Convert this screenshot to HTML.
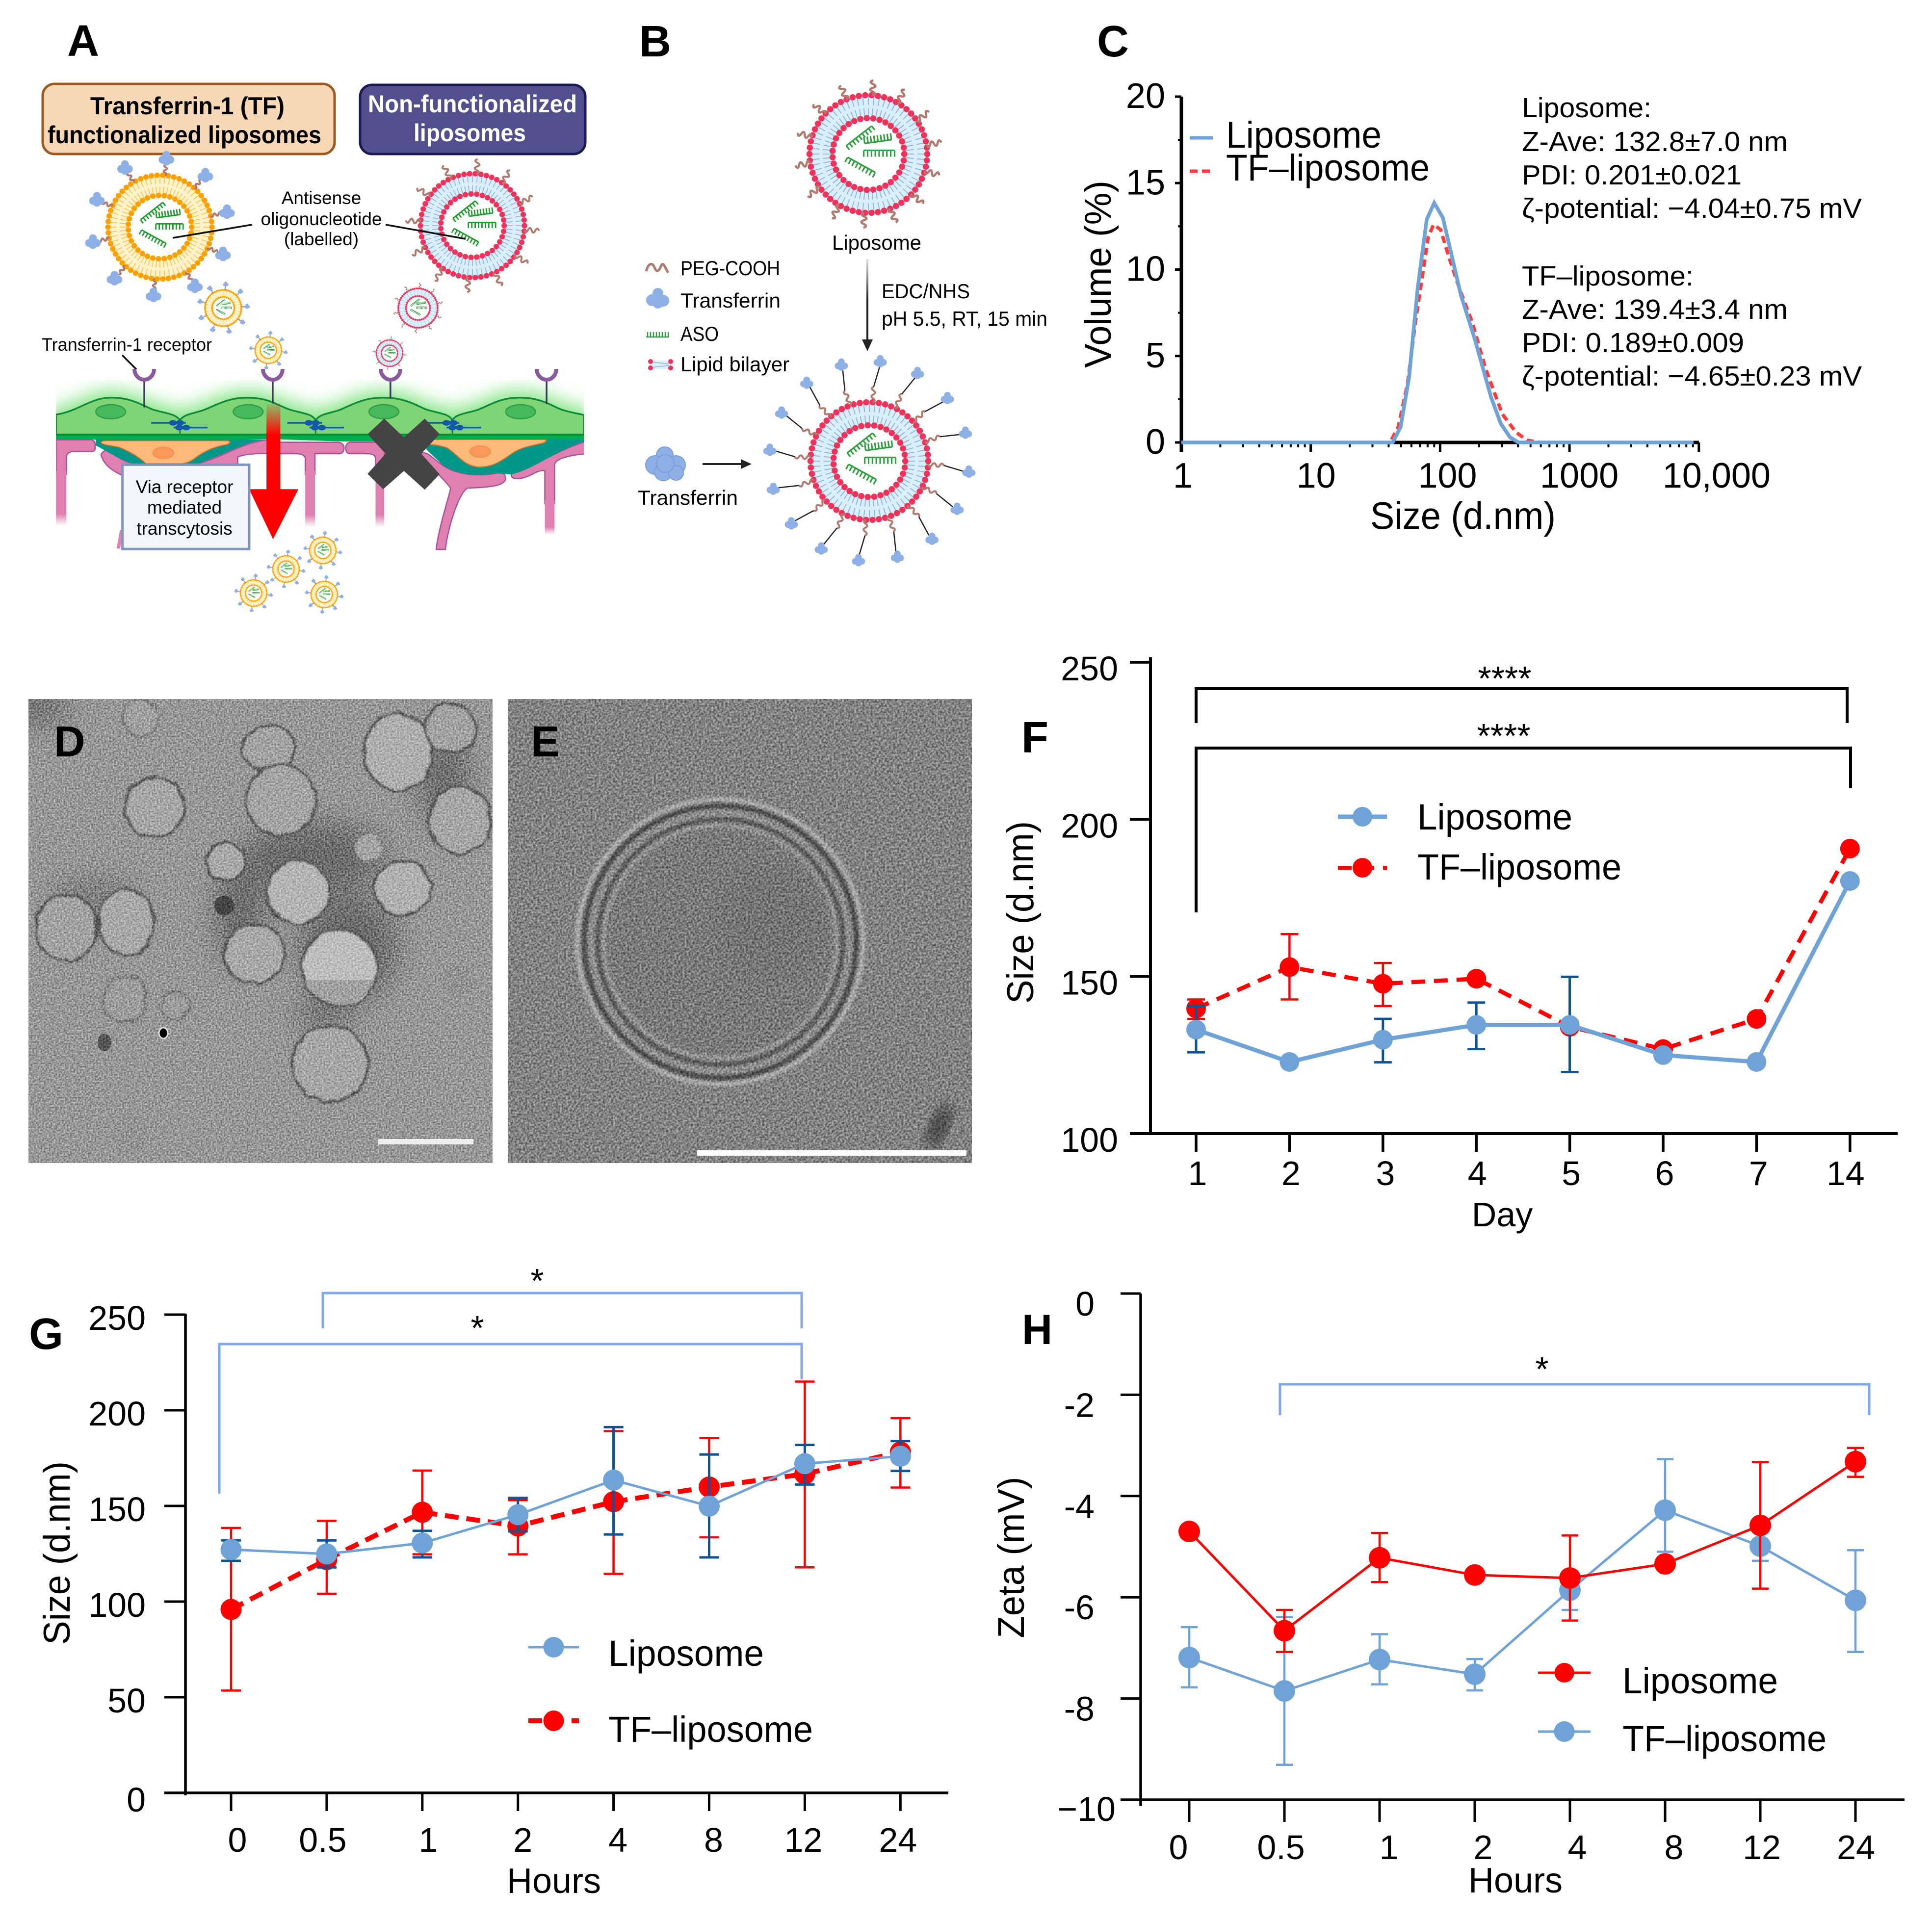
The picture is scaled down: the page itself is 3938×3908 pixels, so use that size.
<!DOCTYPE html>
<html lang="en">
<head>
<meta charset="utf-8">
<title>Liposome characterization figure</title>
<style>
html,body{margin:0;padding:0;background:#fff;}
svg{display:block;}
text{font-family:"Liberation Sans",sans-serif;fill:#000;}
.panel{font-size:90px;font-weight:700;}
.note{font-size:37px;}
.b{font-size:42px;}
.info{font-size:57px;}
.ax{font-size:72px;}
.hb{font-size:50px;font-weight:700;}
.ve *{vector-effect:non-scaling-stroke;}
</style>
</head>
<body>
<svg id="fig" xmlns="http://www.w3.org/2000/svg" width="3938" height="3908" viewBox="0 0 3938 3908">
<defs>
<filter id="noiseD" x="0" y="0" width="100%" height="100%" color-interpolation-filters="sRGB"><feTurbulence type="fractalNoise" baseFrequency="0.3" numOctaves="1" seed="4"/><feColorMatrix values="2 0 0 0 -0.5 2 0 0 0 -0.5 2 0 0 0 -0.5 0 0 0 0 1"/></filter>
<filter id="noiseE" x="0" y="0" width="100%" height="100%" color-interpolation-filters="sRGB"><feTurbulence type="fractalNoise" baseFrequency="0.24" numOctaves="2" seed="9"/><feColorMatrix values="1.8 0 0 0 -0.4 1.8 0 0 0 -0.4 1.8 0 0 0 -0.4 0 0 0 0 1"/></filter>
<filter id="rough" x="-5%" y="-5%" width="110%" height="110%" color-interpolation-filters="sRGB"><feTurbulence type="fractalNoise" baseFrequency="0.04" numOctaves="2" seed="3" result="n"/><feDisplacementMap in="SourceGraphic" in2="n" scale="14" xChannelSelector="R" yChannelSelector="G"/><feGaussianBlur stdDeviation="1.6"/></filter>
<filter id="blur30"><feGaussianBlur stdDeviation="30"/></filter>
<filter id="blur14"><feGaussianBlur stdDeviation="14"/></filter>
<filter id="blur3"><feGaussianBlur stdDeviation="3"/></filter>
<filter id="glow" x="-10%" y="-60%" width="120%" height="220%"><feGaussianBlur stdDeviation="26 62"/></filter>
<clipPath id="clipD"><rect x="58" y="1425" width="946" height="946"/></clipPath>
<clipPath id="clipE"><rect x="1035" y="1425" width="946" height="946"/></clipPath>
<clipPath id="clipCells"><rect x="20" y="-80" width="1525" height="1200"/></clipPath>
<linearGradient id="fadeRed" x1="0" y1="0" x2="0" y2="1"><stop offset="0" stop-color="#ff0000" stop-opacity="0.1"/><stop offset="0.36" stop-color="#ff0000"/><stop offset="1" stop-color="#ff0000"/></linearGradient>
<linearGradient id="fadeArrow" x1="0" y1="0" x2="0" y2="1"><stop offset="0" stop-color="#222" stop-opacity="0.15"/><stop offset="0.5" stop-color="#222"/></linearGradient>
<linearGradient id="fadePink" x1="0" y1="0" x2="0" y2="1"><stop offset="0.78" stop-color="#df80b0"/><stop offset="1" stop-color="#df80b0" stop-opacity="0"/></linearGradient>
<linearGradient id="fadePurple" x1="0" y1="0" x2="0" y2="1"><stop offset="0.78" stop-color="#a8509a"/><stop offset="1" stop-color="#a8509a" stop-opacity="0"/></linearGradient>
</defs>
<rect width="3938" height="3908" fill="#fff"/>

<!-- panel letters -->
<text class="panel" x="137" y="114">A</text>
<text class="panel" x="1303" y="115">B</text>
<text class="panel" x="2236" y="115">C</text>

<!-- PANEL A -->
<g>
  <rect x="87" y="171" width="595" height="143" rx="24" fill="#f6d7b6" stroke="#9b5a22" stroke-width="5"/>
  <text class="hb" x="184" y="233" textLength="396" lengthAdjust="spacingAndGlyphs">Transferrin-1 (TF)</text>
  <text class="hb" x="97" y="292" textLength="558" lengthAdjust="spacingAndGlyphs">functionalized liposomes</text>
  <rect x="734" y="173" width="459" height="141" rx="24" fill="#514f8e" stroke="#1c1a55" stroke-width="5"/>
  <text class="hb" style="fill:#fff" x="750" y="229" textLength="426" lengthAdjust="spacingAndGlyphs">Non-functionalized</text>
  <text class="hb" style="fill:#fff" x="843" y="288" textLength="229" lengthAdjust="spacingAndGlyphs">liposomes</text>

  <g id="aLipos"></g>

  <text class="note" x="655" y="416" text-anchor="middle">Antisense</text>
  <text class="note" x="655" y="459" text-anchor="middle" textLength="247" lengthAdjust="spacingAndGlyphs">oligonucleotide</text>
  <text class="note" x="655" y="500" text-anchor="middle">(labelled)</text>
  <path d="M514 458L352 485M786 458L949 487" stroke="#111" stroke-width="3.5" fill="none"/>
  <text class="note" x="85" y="715" textLength="347" lengthAdjust="spacingAndGlyphs">Transferrin-1 receptor</text>
  <path d="M249 724L278 753" stroke="#111" stroke-width="3.5" fill="none"/>

  <g class="ve" transform="translate(100,760) scale(0.7057,0.3333)" clip-path="url(#clipCells)">
    <path d="M20 255C80 240 120 152 178 152C240 152 270 200 300 225C340 250 365 250 378 290C390 250 420 250 450 225C490 190 520 152 573 152C635 152 660 200 695 225C735 250 760 250 770 290C782 250 810 250 842 225C880 190 910 152 965 152C1030 152 1060 200 1090 225C1130 250 1155 250 1165 290C1175 250 1205 250 1240 225C1280 190 1305 152 1360 152C1420 152 1450 200 1480 225C1510 245 1530 250 1545 258V330H20Z" fill="#7be07b" stroke="#6fe06f" stroke-width="22" filter="url(#glow)"/>
    <g fill="#df80b0" stroke="#a8509a" stroke-width="2.5">
      <path d="M20 410H120Q133 412 133 440V465Q133 482 118 482H65Q50 490 50 520V620H20Z"/>
      <rect x="20" y="600" width="30" height="335" fill="url(#fadePink)" stroke="none"/>
      <path d="M150 500Q160 465 175 475Q200 530 240 555L210 625Q160 580 150 500Z"/>
      <path d="M205 960L217 960L205 1075L195 1075Z" stroke="none"/>
      <path d="M430 555C500 520 560 420 640 408L640 425H835Q852 430 852 460Q852 495 835 495H768V620H740V520Q735 495 715 495H640C600 490 560 500 545 515V560H430Z"/>
      <rect x="740" y="600" width="28" height="345" fill="url(#fadePink)" stroke="none"/>
      <path d="M870 425H1000V495H968V620H943V520Q940 495 920 495H870Q857 495 857 460Q857 430 870 425Z"/>
      <rect x="943" y="600" width="25" height="345" fill="url(#fadePink)" stroke="none"/>
      <path d="M1075 490C1095 480 1110 530 1140 570C1170 610 1220 640 1290 615C1315 600 1320 630 1318 655C1310 690 1280 700 1210 705C1185 720 1150 960 1145 1080H1118C1125 950 1155 760 1160 705C1140 650 1100 570 1075 520Z"/>
      <path d="M1337 610C1400 580 1460 480 1550 420V495C1500 505 1465 525 1460 560V800H1432V600Q1425 590 1400 615C1370 650 1340 660 1335 630Z"/>
      <rect x="1432" y="780" width="28" height="210" fill="url(#fadePink)" stroke="none"/>
    </g>
    <path d="M135 408L625 408C560 425 510 500 430 555L240 555C200 530 170 480 135 445Z" fill="#009688"/>
    <path d="M1090 408L1545 408V420C1460 480 1400 590 1335 622L1290 615C1220 640 1170 610 1140 570C1120 530 1100 490 1090 470Z" fill="#009688"/>
    <path d="M20 378H1545V408H1100L1000 420H850L640 405L530 410H135L130 408H20Z" fill="#00ad4c"/>
    <path d="M160 415H515Q530 420 515 438C480 452 455 470 420 525Q405 550 385 556H280C262 520 240 490 205 458C185 445 155 445 150 428Q150 418 160 415Z" fill="#fdb97a" stroke="#c8702a" stroke-width="2"/>
    <ellipse cx="330" cy="490" rx="30" ry="35" fill="#f9985a" stroke="#f08a4a" stroke-width="1.5"/>
    <path d="M1100 408H1430Q1442 412 1430 428C1400 445 1370 450 1340 490C1310 535 1285 575 1245 577C1200 575 1185 510 1150 460C1130 445 1110 440 1095 438Z" fill="#fdb97a" stroke="#c8702a" stroke-width="2"/>
    <ellipse cx="1245" cy="482" rx="30" ry="35" fill="#f9985a" stroke="#f08a4a" stroke-width="1.5"/>
    <path d="M20 255C80 240 120 152 178 152C240 152 270 200 300 225C340 250 365 250 378 290C390 250 420 250 450 225C490 190 520 152 573 152C635 152 660 200 695 225C735 250 760 250 770 290C782 250 810 250 842 225C880 190 910 152 965 152C1030 152 1060 200 1090 225C1130 250 1155 250 1165 290C1175 250 1205 250 1240 225C1280 190 1305 152 1360 152C1420 152 1450 200 1480 225C1510 245 1530 250 1545 258V378H20Z" fill="#7fd576" stroke="#0d8a3a" stroke-width="3.5"/>
    <rect x="20" y="372" width="1525" height="11" fill="#0d8a3a"/>
    <path d="M378 290V378M770 290V378M1165 290V378" stroke="#0d8a3a" stroke-width="3" fill="none"/>
    <g fill="#46b95a" stroke="#2f9c4a" stroke-width="2.5">
      <ellipse cx="178" cy="238" rx="43" ry="43"/>
      <ellipse cx="575" cy="238" rx="43" ry="43"/>
      <ellipse cx="967" cy="238" rx="43" ry="43"/>
      <ellipse cx="1362" cy="238" rx="43" ry="43"/>
    </g>
    <g stroke="#1259a8" stroke-width="3.5" fill="#1259a8">
      <path d="M295 306H395M360 335H458"/><ellipse cx="358" cy="306" rx="9" ry="12"/><ellipse cx="378" cy="306" rx="9" ry="12"/><ellipse cx="376" cy="335" rx="9" ry="12"/><ellipse cx="396" cy="335" rx="9" ry="12"/>
      <path d="M688 306H788M752 335H852"/><ellipse cx="750" cy="306" rx="9" ry="12"/><ellipse cx="770" cy="306" rx="9" ry="12"/><ellipse cx="768" cy="335" rx="9" ry="12"/><ellipse cx="788" cy="335" rx="9" ry="12"/>
      <path d="M1085 306H1185M1148 335H1248"/><ellipse cx="1148" cy="306" rx="9" ry="12"/><ellipse cx="1168" cy="306" rx="9" ry="12"/><ellipse cx="1165" cy="335" rx="9" ry="12"/><ellipse cx="1186" cy="335" rx="9" ry="12"/>
    </g>
    <path d="M275 50V212M646 50V187M986 50V154M1437 50V192" stroke="#3a3a55" stroke-width="3.5" fill="none"/>
    <rect x="628" y="190" width="40" height="525" fill="url(#fadeRed)"/>
    <path d="M578 712H720L647 1018Z" fill="#ff0000"/>
    <path d="M968 280L1025 395L1085 280L1128 375L1075 495L1128 620L1085 715L1025 600L965 712L920 618L972 495L920 375Z" fill="#444"/>
    <rect x="212" y="562" width="366" height="516" fill="#f2f5fa" stroke="#7f97bf" stroke-width="5"/>
  </g>
  <path d="M274 752A20 22 0 0 0 314 752M536 752A20 22 0 0 0 576 752M776 752A20 22 0 0 0 816 752M1094 752A20 22 0 0 0 1134 752" stroke="#8a5a9f" stroke-width="8" fill="none"/>
  <text class="note" x="376" y="1005" text-anchor="middle">Via receptor</text>
  <text class="note" x="376" y="1047" text-anchor="middle">mediated</text>
  <text class="note" x="376" y="1090" text-anchor="middle">transcytosis</text>
</g>

<!-- PANEL B -->
<g>
  <g id="bLipos"></g>
  <text class="b" x="1787" y="509" text-anchor="middle" textLength="182" lengthAdjust="spacingAndGlyphs">Liposome</text>
  <rect x="1766" y="528" width="4" height="168" fill="url(#fadeArrow)"/>
  <path d="M1757 692H1779L1768 716Z" fill="#222"/>
  <text class="b" x="1797" y="608" textLength="180" lengthAdjust="spacingAndGlyphs">EDC/NHS</text>
  <text class="b" x="1797" y="664" textLength="338" lengthAdjust="spacingAndGlyphs">pH 5.5, RT, 15 min</text>
  <path d="M1317 553C1322 535 1330 535 1334 545S1342 555 1347 543S1355 545 1362 556" fill="none" stroke="#b07a6e" stroke-width="5"/>
  <g fill="#8fb0e6"><circle cx="1341" cy="598" r="11"/><circle cx="1329" cy="612" r="12"/><circle cx="1352" cy="613" r="12"/><circle cx="1341" cy="618" r="11"/></g>
  <path d="M1317 687H1364M1320 687V677M1326 687V677M1332 687V677M1338 687V677M1344 687V677M1350 687V677M1356 687V677M1362 687V677" stroke="#2e9e3e" stroke-width="2.5" fill="none"/>
  <g><rect x="1324" y="735" width="44" height="17" fill="#d9f0fb"/><path d="M1328 738L1364 742M1328 749L1364 745" stroke="#8fb0e0" stroke-width="1.5"/><g fill="#f0325a"><circle cx="1326" cy="737" r="5"/><circle cx="1326" cy="750" r="5"/><circle cx="1367" cy="737" r="5"/><circle cx="1367" cy="750" r="5"/></g></g>
  <text class="b" x="1387" y="561" textLength="203" lengthAdjust="spacingAndGlyphs">PEG-COOH</text>
  <text class="b" x="1387" y="627" textLength="204" lengthAdjust="spacingAndGlyphs">Transferrin</text>
  <text class="b" x="1387" y="695" textLength="78" lengthAdjust="spacingAndGlyphs">ASO</text>
  <text class="b" x="1387" y="757" textLength="222" lengthAdjust="spacingAndGlyphs">Lipid bilayer</text>
  <g fill="#8fb0e6" stroke="#7a9cdc" stroke-width="2">
    <circle cx="1355" cy="928" r="17"/><circle cx="1335" cy="948" r="19"/><circle cx="1378" cy="948" r="19"/><circle cx="1352" cy="962" r="18"/><circle cx="1378" cy="964" r="15"/><circle cx="1356" cy="945" r="18"/>
  </g>
  <text class="b" x="1300" y="1029" textLength="204" lengthAdjust="spacingAndGlyphs">Transferrin</text>
  <path d="M1432 946H1516" stroke="#222" stroke-width="4" fill="none"/>
  <path d="M1510 936L1532 946L1510 956Z" fill="#222"/>
</g>

<!-- PANEL C static text -->
<g>
  <text class="ax" transform="translate(2264,559) rotate(-90)" text-anchor="middle" textLength="382" lengthAdjust="spacingAndGlyphs" style="font-size:76px">Volume (%)</text>
  <text class="ax" x="2982" y="1078" text-anchor="middle" textLength="378" lengthAdjust="spacingAndGlyphs" style="font-size:78px">Size (d.nm)</text>
  <text class="ax" x="2499" y="301" textLength="317" lengthAdjust="spacingAndGlyphs" style="font-size:76px">Liposome</text>
  <text class="ax" x="2499" y="368" textLength="415" lengthAdjust="spacingAndGlyphs" style="font-size:76px">TF–liposome</text>
  <path d="M2425 281H2472" stroke="#6fa3d8" stroke-width="7"/>
  <path d="M2425 349H2472" stroke="#ff3b3b" stroke-width="7" stroke-dasharray="16 9"/>
  <text class="info" x="3102" y="239" textLength="264" lengthAdjust="spacingAndGlyphs">Liposome:</text>
  <text class="info" x="3102" y="308" textLength="542" lengthAdjust="spacingAndGlyphs">Z-Ave: 132.8±7.0 nm</text>
  <text class="info" x="3102" y="376" textLength="448" lengthAdjust="spacingAndGlyphs">PDI: 0.201±0.021</text>
  <text class="info" x="3102" y="444" textLength="693" lengthAdjust="spacingAndGlyphs">ζ-potential: −4.04±0.75 mV</text>
  <text class="info" x="3102" y="582" textLength="350" lengthAdjust="spacingAndGlyphs">TF–liposome:</text>
  <text class="info" x="3102" y="650" textLength="542" lengthAdjust="spacingAndGlyphs">Z-Ave: 139.4±3.4 nm</text>
  <text class="info" x="3102" y="718" textLength="453" lengthAdjust="spacingAndGlyphs">PDI: 0.189±0.009</text>
  <text class="info" x="3102" y="786" textLength="693" lengthAdjust="spacingAndGlyphs">ζ-potential: −4.65±0.23 mV</text>
</g>
<g id="chartC"></g>

<!-- PANEL D -->
<g clip-path="url(#clipD)">
  <rect x="58" y="1425" width="946" height="946" fill="#979797"/>
  <g fill="#6a6a6a" filter="url(#blur30)">
    <ellipse cx="905" cy="1590" rx="50" ry="100"/>
    <ellipse cx="640" cy="1745" rx="150" ry="70"/>
    <ellipse cx="490" cy="1860" rx="50" ry="110"/>
    <ellipse cx="710" cy="1930" rx="100" ry="110"/>
    <ellipse cx="190" cy="1825" rx="90" ry="22"/>
    <ellipse cx="660" cy="2070" rx="60" ry="28"/>
    <ellipse cx="70" cy="1440" rx="70" ry="35"/>
  </g>
  <g fill="#aeaeae" stroke="#555" stroke-width="5" filter="url(#rough)">
    <ellipse cx="286" cy="1463" rx="36" ry="38" fill="#a0a0a0" stroke="#7d7d7d"/>
    <ellipse cx="548" cy="1527" rx="54" ry="47" fill="#a2a2a2"/>
    <ellipse cx="812" cy="1533" rx="71" ry="78"/>
    <ellipse cx="918" cy="1485" rx="52" ry="51" fill="#a2a2a2"/>
    <ellipse cx="316" cy="1646" rx="61" ry="61" fill="#a6a6a6"/>
    <ellipse cx="573" cy="1631" rx="71" ry="72" fill="#a4a4a4"/>
    <ellipse cx="937" cy="1673" rx="64" ry="68" fill="#a6a6a6"/>
    <ellipse cx="460" cy="1756" rx="39" ry="39" fill="#a8a8a8"/>
    <ellipse cx="750" cy="1729" rx="28" ry="27" fill="#a4a4a4" stroke="none"/>
    <ellipse cx="608" cy="1820" rx="64" ry="64" fill="#b4b4b4"/>
    <ellipse cx="821" cy="1810" rx="58" ry="55" fill="#b0b0b0"/>
    <ellipse cx="135" cy="1891" rx="62" ry="67" fill="#a2a2a2"/>
    <ellipse cx="258" cy="1881" rx="58" ry="67" fill="#a8a8a8"/>
    <ellipse cx="518" cy="1945" rx="62" ry="60" fill="#a8a8a8"/>
    <ellipse cx="692" cy="1973" rx="77" ry="78" fill="#bdbdbd"/>
    <ellipse cx="254" cy="2036" rx="45" ry="47" fill="#9c9c9c" stroke="#7a7a7a"/>
    <ellipse cx="357" cy="2051" rx="28" ry="29" fill="#9c9c9c" stroke="#7a7a7a"/>
    <ellipse cx="673" cy="2169" rx="77" ry="78" fill="#a6a6a6"/>
    <ellipse cx="934" cy="1999" rx="32" ry="32" fill="#929292" stroke="none"/>
    <ellipse cx="264" cy="2311" rx="36" ry="39" fill="#949494" stroke="none"/>
  </g>
  <path d="M620 1998A77 78 0 0 0 764 1998Z" fill="#8d8d8d" opacity="0.6"/>
  <ellipse cx="457" cy="1846" rx="20" ry="20" fill="#444"/>
  <ellipse cx="213" cy="2125" rx="14" ry="18" fill="#555"/>
  <ellipse cx="333" cy="2106" rx="9" ry="11" fill="#000" stroke="#ddd" stroke-width="3"/>
  <rect x="58" y="1425" width="946" height="946" filter="url(#noiseD)" opacity="0.45" style="mix-blend-mode:overlay"/>
  <rect x="771" y="2322" width="194" height="11" fill="#eee"/>
  <text class="panel" x="110" y="1542" style="font-size:88px">D</text>
</g>

<!-- PANEL E -->
<g clip-path="url(#clipE)">
  <rect x="1035" y="1425" width="946" height="946" fill="#828282"/>
  <ellipse cx="1468" cy="1920" rx="291" ry="290" fill="none" stroke="#adadad" stroke-width="9" filter="url(#blur3)"/>
  <ellipse cx="1468" cy="1920" rx="240" ry="240" fill="#7a7a7a"/>
  <ellipse cx="1468" cy="1920" rx="238" ry="238" fill="none" stroke="#969696" stroke-width="9" filter="url(#blur3)"/>
  <ellipse cx="1468" cy="1920" rx="264" ry="264" fill="none" stroke="#8e8e8e" stroke-width="20"/>
  <ellipse cx="1468" cy="1920" rx="277" ry="277" fill="none" stroke="#4a4a4a" stroke-width="10" filter="url(#blur3)"/>
  <ellipse cx="1468" cy="1920" rx="250" ry="250" fill="none" stroke="#555" stroke-width="9" filter="url(#blur3)"/>
  <ellipse cx="1570" cy="1880" rx="100" ry="110" fill="#737373" filter="url(#blur30)"/>
  <ellipse cx="1914" cy="2296" rx="20" ry="48" fill="#454545" filter="url(#blur14)" transform="rotate(25 1914 2296)"/>
  <rect x="1035" y="1425" width="946" height="946" filter="url(#noiseE)" opacity="0.42" style="mix-blend-mode:overlay"/>
  <rect x="1421" y="2345" width="549" height="11" fill="#fff"/>
  <text class="panel" x="1082" y="1542" style="font-size:88px">E</text>
</g>

<!-- PANEL F/G/H static -->
<text class="panel" x="2082" y="1534">F</text>
<text class="panel" x="59" y="2750">G</text>
<text class="panel" x="2083" y="2740" style="font-size:86px">H</text>
<g id="chartF"></g>
<g id="chartG"></g>
<g id="chartH"></g>
</svg>

<script>
// ---------- chart data ----------
const cXTickLabels = ['1', '10', '100', '1000', '10,000'];
const cXTickValues = [1, 10, 100, 1000, 10000];
const cYTicks = [0, 5, 10, 15, 20];
const cLipoSizes = [1, 43, 49.5, 57.5, 67, 78.8, 90, 105, 123, 145, 185, 248, 294, 347, 403, 9100];
const cLipoVolume = [0, 0, 0.9, 3.75, 8.9, 12.9, 13.85, 13.0, 10.8, 8.5, 6.0, 2.6, 1.1, 0.3, 0, 0];
const cTfSizes = [1, 41, 47.5, 56, 64.5, 73.5, 81, 89, 101, 116, 141, 176, 224, 302, 385, 468, 597, 9100];
const cTfVolume = [0, 0, 0.9, 3.4, 7.0, 9.8, 11.9, 12.6, 12.3, 10.8, 8.9, 7.0, 4.3, 1.65, 0.6, 0.13, 0, 0];

const fDays = ['1', '2', '3', '4', '5', '6', '7', '14'];
const fYTicks = [100, 150, 200, 250];
const fLipo = [133.1, 122.8, 129.9, 134.6, 134.6, 125, 122.8, 180.4];
const fLipoHi = [140.6, null, 136.5, 141.7, 149.9, null, null, null];
const fLipoLo = [125.9, null, 122.7, 126.9, 119.6, null, null, null];
const fTf = [139.8, 153, 147.7, 149.3, 134, 126.9, 136.5, 190.7];
const fTfHi = [142.7, 163.5, 154.3, null, null, null, null, null];
const fTfLo = [136.5, 142.7, 140.6, null, null, null, null, null];

const gHours = ['0', '0.5', '1', '2', '4', '8', '12', '24'];
const gYTicks = [0, 50, 100, 150, 200, 250];
const gLipo = [127.2, 124.9, 130.6, 145.4, 163.5, 149.9, 172.1, 176];
const gLipoHi = [132, 132, 137, 154.2, 191.2, 176.9, 181.9, 183.9];
const gLipoLo = [121.3, 117.9, 123.1, 136.7, 135.1, 123.1, 161.2, 168.3];
const gTf = [95.9, 122, 146.7, 139.5, 152.2, 159.9, 166.7, 178.2];
const gTfHi = [138.5, 142.2, 168.5, 153, 189.1, 185.5, 215, 195.9];
const gTfLo = [53.5, 104.1, 124.7, 124.7, 114.5, 133.6, 117.9, 159.6];

const hHours = ['0', '0.5', '1', '2', '4', '8', '12', '24'];
const hYTicks = [0, -2, -4, -6, -8, -10];
const hLipo = [-4.7, -6.66, -5.22, -5.56, -5.62, -5.34, -4.58, -3.32];
const hLipoHi = [null, -6.25, -4.73, null, -4.78, null, -3.33, -3.05];
const hLipoLo = [null, -7.08, -5.7, null, -6.46, null, -5.83, -3.62];
const hTf = [-7.19, -7.85, -7.23, -7.52, -5.86, -4.28, -4.99, -6.06];
const hTfHi = [-6.59, -6.39, -6.73, -7.22, -5.5, -3.27, -4.6, -5.07];
const hTfLo = [-7.78, -9.31, -7.72, -7.84, -6.25, -5.1, -5.28, -7.08];

// ---------- helpers ----------
const NS = 'http://www.w3.org/2000/svg';
function mk(tag, attrs, parent) {
  const n = document.createElementNS(NS, tag);
  for (const k in attrs) n.setAttribute(k, attrs[k]);
  parent.appendChild(n);
  return n;
}
const BLUE = '#6fa3d8', RED = '#ff0000', NAVY = '#0f5296';

function addText(parent, x, y, str, size, anchor, name) {
  const t = mk('text', {x: x, y: y, 'text-anchor': anchor, style: 'font-size:' + size + 'px'}, parent);
  
  
  t.textContent = str;
  return t;
}
function addLine(parent, d, stroke, width, name, dash) {
  const attrs = {d: d, stroke: stroke, 'stroke-width': width, fill: 'none'};
  if (dash) attrs['stroke-dasharray'] = dash;
  const p = mk('path', attrs, parent);
  
  
  return p;
}
function addSeries(parent, name, xf, yf, vals, hi, lo, lineColor, errColor, lineW, dash, r, capW, errW) {
  let d = '';
  vals.forEach(function (v, i) { d += (i ? 'L' : 'M') + xf(i) + ' ' + yf(v); });
  addLine(parent, d, lineColor, lineW, name + '-line', dash);
  vals.forEach(function (v, i) {
    if (hi[i] === null || lo[i] === null) return;
    const x = xf(i);
    const eb = 'M' + x + ' ' + yf(hi[i]) + 'V' + yf(lo[i]) +
      'M' + (x - capW) + ' ' + yf(hi[i]) + 'H' + (x + capW) +
      'M' + (x - capW) + ' ' + yf(lo[i]) + 'H' + (x + capW);
    addLine(parent, eb, errColor, errW, name + '-error-bar-' + i);
  });
  vals.forEach(function (v, i) {
    const c = mk('circle', {cx: xf(i), cy: yf(v), r: r, fill: lineColor === RED ? RED : BLUE}, parent);
    
    
  });
}
function addBracket(parent, x1, x2, y, yl, yr, color, w, name) {
  addLine(parent, 'M' + x1 + ' ' + yl + 'V' + y + 'H' + x2 + 'V' + yr, color, w, name);
}
function addLegendRow(parent, x1, x2, y, tx, ty, w, label, color, lineW, dash, r, name) {
  addLine(parent, 'M' + x1 + ' ' + y + 'H' + x2, color, lineW, name + '-line', dash);
  const c = mk('circle', {cx: (x1 + x2) / 2, cy: y, r: r, fill: color}, parent);
  
  
  const t = addText(parent, tx, ty, label, 74, 'start', name + '-label');
  t.setAttribute('textLength', w);
  t.setAttribute('lengthAdjust', 'spacingAndGlyphs');
}
function rotatedTitle(parent, x, y, str, len, name) {
  const t = addText(parent, 0, 0, str, 76, 'middle', name);
  t.setAttribute('transform', 'translate(' + x + ',' + y + ') rotate(-90)');
  t.setAttribute('textLength', len);
  t.setAttribute('lengthAdjust', 'spacingAndGlyphs');
}

// ---------- chart C ----------
(function () {
  const g = document.getElementById('chartC');
  const cx = function (d) { return 2408 + 263.7 * Math.log10(d); };
  const cy = function (v) { return 902 - 35.25 * v; };
  addLine(g, 'M2408 ' + cy(20) + 'V' + (cy(0) + 19) + 'M2408 902H' + cx(10000), '#000', 7, 'c-axes');
  cYTicks.forEach(function (v) {
    addLine(g, 'M2395 ' + cy(v) + 'H2408', '#000', 5, 'c-y-tick-' + v);
    addText(g, 2375, cy(v) + 23, String(v), 72, 'end', 'c-y-tick-label-' + v);
    if (v < 20) addLine(g, 'M2401 ' + cy(v + 2.5) + 'H2408', '#000', 4, 'c-y-minor-tick-' + v);
  });
  const labelShift = [3, 11, 15, 20, 36];
  cXTickValues.forEach(function (v, i) {
    addLine(g, 'M' + cx(v) + ' 902V921', '#000', 5, 'c-x-tick-' + v);
    addText(g, cx(v) + labelShift[i], 994, cXTickLabels[i], 72, 'middle', 'c-x-tick-label-' + v);
    if (v < 10000) for (let m = 2; m < 10; m++) {
      addLine(g, 'M' + cx(v * m) + ' 902V912', '#000', 4, 'c-x-minor-tick');
    }
  });
  const toPath = function (xs, ys) {
    return xs.map(function (s, i) { return (i ? 'L' : 'M') + cx(s) + ' ' + cy(ys[i]); }).join('');
  };
  addLine(g, toPath(cTfSizes, cTfVolume), '#ff3b3b', 7, 'c-tf-liposome-curve', '15 9');
  addLine(g, toPath(cLipoSizes, cLipoVolume), BLUE, 7.5, 'c-liposome-curve');
})();

// ---------- chart F ----------
(function () {
  const g = document.getElementById('chartF');
  const xf = function (i) { return 2438 + i * 190.4; };
  const yf = function (v) { return 2311 - (v - 100) * 6.406; };
  const labelNudge = [3, 3, 5, 2, 3, 3, 4, -9];
  addLine(g, 'M2345 1340V2311M2303 2311H3868', '#000', 6, 'f-axes');
  fYTicks.forEach(function (v) {
    addLine(g, 'M2303 ' + yf(v) + 'H2345', '#000', 5.5, 'f-y-tick-' + v);
    addText(g, 2279, yf(v) + 37, String(v), 70, 'end', 'f-y-tick-label-' + v);
  });
  fDays.forEach(function (d, i) {
    addLine(g, 'M' + xf(i) + ' 2311V2348', '#000', 5.5, 'f-x-tick-' + d);
    addText(g, xf(i) + labelNudge[i], 2416, d, 70, 'middle', 'f-x-tick-label-' + d);
  });
  addText(g, 3062, 2500, 'Day', 70, 'middle', 'f-x-axis-title');
  rotatedTitle(g, 2106, 1860, 'Size (d.nm)', 372, 'f-y-axis-title');
  addBracket(g, 2438, 3765, 1404, 1474, 1474, '#000', 6, 'f-significance-bracket-top');
  addBracket(g, 2438, 3772, 1525, 1860, 1607, '#000', 6, 'f-significance-bracket-lower');
  addText(g, 3067, 1407, '****', 70, 'middle', 'f-significance-stars-top');
  addText(g, 3065, 1524, '****', 70, 'middle', 'f-significance-stars-lower');
  addLegendRow(g, 2727, 2827, 1665, 2889, 1691, 316, 'Liposome', BLUE, 9, null, 20, 'f-legend-liposome');
  addLegendRow(g, 2727, 2827, 1769, 2889, 1793, 416, 'TF–liposome', RED, 8, '28 18', 20, 'f-legend-tf');
  addSeries(g, 'f-tf-liposome', xf, yf, fTf, fTfHi, fTfLo, RED, RED, 8.5, '28 18', 20, 18, 4.5);
  addSeries(g, 'f-liposome', xf, yf, fLipo, fLipoHi, fLipoLo, BLUE, NAVY, 8.5, null, 20, 18, 5);
})();

// ---------- chart G ----------
(function () {
  const g = document.getElementById('chartG');
  const xf = function (i) { return 471 + i * 194.9; };
  const yf = function (v) { return 3655 - v * 3.9; };
  const labelNudge = [13, -8, 12, 10, 9, 9, -3, -5];
  addLine(g, 'M378 2678V3660M335 3655H1933', '#000', 5.5, 'g-axes');
  gYTicks.forEach(function (v) {
    addLine(g, 'M335 ' + yf(v) + 'H378', '#000', 5, 'g-y-tick-' + v);
    addText(g, 297, yf(v) + (v === 0 ? 38 : 31), String(v), 70, 'end', 'g-y-tick-label-' + v);
  });
  gHours.forEach(function (h, i) {
    addLine(g, 'M' + xf(i) + ' 3655V3692', '#000', 5, 'g-x-tick-' + h);
    addText(g, xf(i) + labelNudge[i], 3775, h, 70, 'middle', 'g-x-tick-label-' + h);
  });
  addText(g, 1129, 3859, 'Hours', 72, 'middle', 'g-x-axis-title');
  rotatedTitle(g, 142, 3166, 'Size (d.nm)', 374, 'g-y-axis-title');
  addBracket(g, 658, 1634, 2636, 2708, 2708, '#7fa8e8', 5, 'g-significance-bracket-top');
  addBracket(g, 447, 1634, 2740, 3045, 2812, '#7fa8e8', 5, 'g-significance-bracket-lower');
  addText(g, 1095, 2635, '*', 70, 'middle', 'g-significance-star-top');
  addText(g, 973, 2731, '*', 70, 'middle', 'g-significance-star-lower');
  addLegendRow(g, 1077, 1180, 3358, 1240, 3396, 317, 'Liposome', BLUE, 5, null, 21, 'g-legend-liposome');
  addLegendRow(g, 1077, 1180, 3508, 1240, 3551, 417, 'TF–liposome', RED, 10, '28 16', 21, 'g-legend-tf');
  addSeries(g, 'g-tf-liposome', xf, yf, gTf, gTfHi, gTfLo, RED, RED, 10, '28 16', 21.5, 20, 4.5);
  addSeries(g, 'g-liposome', xf, yf, gLipo, gLipoHi, gLipoLo, BLUE, NAVY, 5, null, 21.5, 20, 5);
})();

// ---------- chart H ----------
(function () {
  const g = document.getElementById('chartH');
  const xf = function (i) { return 2424 + i * 194; };
  const yf = function (v) { return 2637 - v * 103.2; };
  const labelNudge = [-22, -7, 19, 17, 15, 18, 3, 1];
  addLine(g, 'M2325 2637V3682M2284 3669H3882', '#000', 5.5, 'h-axes');
  hYTicks.forEach(function (v) {
    addLine(g, 'M2284 ' + yf(v) + 'H2325', '#000', 5, 'h-y-tick-' + v);
    const t = addText(g, v === -10 ? 2274 : 2231, yf(v) + (v === -10 ? 43 : 45), v === -10 ? '−10' : (v === 0 ? '0' : '-' + (-v)), 70, 'end', 'h-y-tick-label-' + v);
    t.setAttribute('data-value', v);
  });
  hHours.forEach(function (h, i) {
    addLine(g, 'M' + xf(i) + ' 3671V3714', '#000', 5, 'h-x-tick-' + h);
    addText(g, xf(i) + labelNudge[i], 3790, h, 70, 'middle', 'h-x-tick-label-' + h);
  });
  addText(g, 3089, 3858, 'Hours', 72, 'middle', 'h-x-axis-title');
  rotatedTitle(g, 2087, 3175, 'Zeta (mV)', 329, 'h-y-axis-title');
  addBracket(g, 2609, 3810, 2822, 2885, 2885, '#7fa8e8', 5, 'h-significance-bracket');
  addText(g, 3143, 2815, '*', 70, 'middle', 'h-significance-star');
  addLegendRow(g, 3135, 3242, 3410, 3307, 3452, 317, 'Liposome', RED, 5, null, 20, 'h-legend-liposome');
  addLegendRow(g, 3135, 3242, 3530, 3307, 3570, 416, 'TF–liposome', BLUE, 5, null, 21, 'h-legend-tf');
  addSeries(g, 'h-tf-liposome', xf, yf, hTf, hTfHi, hTfLo, BLUE, BLUE, 5, null, 22, 17, 4.5);
  addSeries(g, 'h-liposome', xf, yf, hLipo, hLipoHi, hLipoLo, RED, RED, 5, null, 22, 17, 4.5);
})();

// ---------- liposome illustrations ----------
function comb(parent, x1, y1, x2, y2, tooth, color, w, n, name) {
  const dx = x2 - x1, dy = y2 - y1, L = Math.hypot(dx, dy);
  const px = -dy / L * tooth, py = dx / L * tooth;
  let d = 'M' + x1 + ' ' + y1 + 'L' + x2 + ' ' + y2;
  for (let i = 0; i <= n; i++) {
    const x = x1 + dx * i / n, y = y1 + dy * i / n;
    d += 'M' + x + ' ' + y + 'l' + px + ' ' + py;
  }
  addLine(parent, d, color, w, name);
}
function wiggle(parent, cx, cy, a, r1, r2, amp, color, w, name) {
  const ux = Math.cos(a), uy = Math.sin(a), vx = -uy, vy = ux;
  const steps = 4;
  let d = 'M' + (cx + ux * r1) + ' ' + (cy + uy * r1);
  for (let i = 0; i < steps; i++) {
    const rc = r1 + (r2 - r1) * (i + 0.5) / steps, re = r1 + (r2 - r1) * (i + 1) / steps;
    const s = i % 2 ? -amp : amp;
    d += 'Q' + (cx + ux * rc + vx * s) + ' ' + (cy + uy * rc + vy * s) + ' ' + (cx + ux * re) + ' ' + (cy + uy * re);
  }
  addLine(parent, d, color, w, name);
}
function blob(parent, x, y, r, name) {
  const offs = [[0, -0.6], [-0.6, 0.15], [0.6, 0.15], [0, 0.45]];
  offs.forEach(function (o) {
    const c = mk('circle', {cx: x + o[0] * r, cy: y + o[1] * r, r: r * 0.62, fill: '#8fb0e6'}, parent);
    
    
  });
}
function liposome(parent, name, cx, cy, R, beadColor, fillColor, lipidColor, opts) {
  const g = mk('g', {}, parent);
  
  
  const s = R / 106, Rin = R * 0.61, Rm = (R + Rin) / 2;
  const band = mk('circle', {cx: cx, cy: cy, r: Rm, fill: 'none', stroke: fillColor, 'stroke-width': R - Rin}, g);
  
  
  const lumen = mk('circle', {cx: cx, cy: cy, r: Rin, fill: '#fff'}, g);
  
  
  let d = '';
  const nLip = R > 60 ? 64 : 28;
  for (let i = 0; i < nLip; i++) {
    const a = i / nLip * Math.PI * 2, c = Math.cos(a), sn = Math.sin(a);
    d += 'M' + (cx + c * R) + ' ' + (cy + sn * R) + 'L' + (cx + c * (Rm + 3 * s)) + ' ' + (cy + sn * (Rm + 3 * s));
    d += 'M' + (cx + c * Rin) + ' ' + (cy + sn * Rin) + 'L' + (cx + c * (Rm - 3 * s)) + ' ' + (cy + sn * (Rm - 3 * s));
  }
  addLine(g, d, lipidColor, Math.max(0.7, 1.6 * s), name + '-lipid-tails');
  const beadR = Math.max(1.5, 5.6 * s);
  [[R, Math.round(2 * Math.PI * R / (beadR * 2.05))], [Rin, Math.round(2 * Math.PI * Rin / (beadR * 2.05))]].forEach(function (ring) {
    for (let i = 0; i < ring[1]; i++) {
      const a = i / ring[1] * Math.PI * 2;
      const b = mk('circle', {cx: cx + Math.cos(a) * ring[0], cy: cy + Math.sin(a) * ring[0], r: beadR, fill: beadColor}, g);
      
      
    }
  });
  const u = R / 128, aso = opts.asoColor || '#1f9a2c', tw = Math.max(0.8, 2.8 * s);
  comb(g, cx - 48 * u, cy - 18 * u, cx + 7 * u, cy - 61 * u, 11 * u, aso, tw, 8, name + '-aso-strand');
  comb(g, cx - 8 * u, cy - 23 * u, cx + 50 * u, cy - 31 * u, -14 * u, aso, tw, 8, name + '-aso-strand');
  comb(g, cx - 10 * u, cy - 8 * u, cx + 57 * u, cy - 8 * u, 14 * u, aso, tw, 8, name + '-aso-strand');
  comb(g, cx - 45 * u, cy + 7 * u, cx + 15 * u, cy + 40 * u, 12 * u, aso, tw, 8, name + '-aso-strand');
  const n = opts.count || 0;
  for (let i = 0; i < n; i++) {
    const a = (i + 0.15) / n * Math.PI * 2 - Math.PI / 2;
    const wr = Math.max(1, 4 * s);
    if (opts.kind === 'peg') {
      wiggle(g, cx, cy, a, R, R + 30 * s * (opts.len || 1), 9 * s, '#b07a6e', wr, name + '-peg-chain');
    } else if (opts.kind === 'tf') {
      wiggle(g, cx, cy, a, R, R + 22 * s, 6 * s, '#b07a6e', wr, name + '-peg-chain');
      blob(g, cx + Math.cos(a) * (R + 34 * s), cy + Math.sin(a) * (R + 34 * s), 13 * s, name + '-transferrin');
    } else if (opts.kind === 'chain') {
      wiggle(g, cx, cy, a, R, R + 32, 7, '#b07a6e', 4, name + '-peg-chain');
      addLine(g, 'M' + (cx + Math.cos(a) * (R + 32)) + ' ' + (cy + Math.sin(a) * (R + 32)) + 'L' + (cx + Math.cos(a + 0.05) * (R + 74)) + ' ' + (cy + Math.sin(a + 0.05) * (R + 74)), '#222', 2.5, name + '-amide-linker');
      blob(g, cx + Math.cos(a + 0.05) * (R + 84), cy + Math.sin(a + 0.05) * (R + 84), 11, name + '-transferrin');
    }
  }
}
(function () {
  const a = document.getElementById('aLipos');
  const OR = '#ffa000', OF = '#fff3cc', OL = '#fcc24a', PK = '#f0325a', PF = '#d9f0fb', PL = '#8fb0e0';
  liposome(a, 'tf-liposome-large', 326, 463, 106, OR, OF, OL, {kind: 'tf', count: 10});
  liposome(a, 'plain-liposome-large', 963, 460, 106, PK, PF, PL, {kind: 'peg', count: 12});
  liposome(a, 'tf-liposome-small-1', 455, 628, 37, OR, OF, OL, {kind: 'tf', count: 9});
  liposome(a, 'plain-liposome-small-1', 852, 628, 40, PK, PF, PL, {kind: 'peg', count: 10});
  liposome(a, 'tf-liposome-small-2', 547, 714, 27, OR, OF, OL, {kind: 'tf', count: 8});
  liposome(a, 'plain-liposome-small-2', 794, 720, 27, PK, PF, PL, {kind: 'peg', count: 8});
  liposome(a, 'tf-liposome-brain-1', 658, 1122, 27, OR, OF, OL, {kind: 'tf', count: 8});
  liposome(a, 'tf-liposome-brain-2', 583, 1160, 27, OR, OF, OL, {kind: 'tf', count: 8});
  liposome(a, 'tf-liposome-brain-3', 517, 1209, 27, OR, OF, OL, {kind: 'tf', count: 8});
  liposome(a, 'tf-liposome-brain-4', 661, 1212, 27, OR, OF, OL, {kind: 'tf', count: 8});
  const b = document.getElementById('bLipos');
  liposome(b, 'liposome-before-conjugation', 1770, 314, 120, PK, PF, PL, {kind: 'peg', count: 14, len: 0.9, asoColor: '#2e9e3e'});
  liposome(b, 'liposome-after-conjugation', 1772, 940, 120, PK, PF, PL, {kind: 'chain', count: 16, asoColor: '#2e9e3e'});
})();
</script>
</body>
</html>
